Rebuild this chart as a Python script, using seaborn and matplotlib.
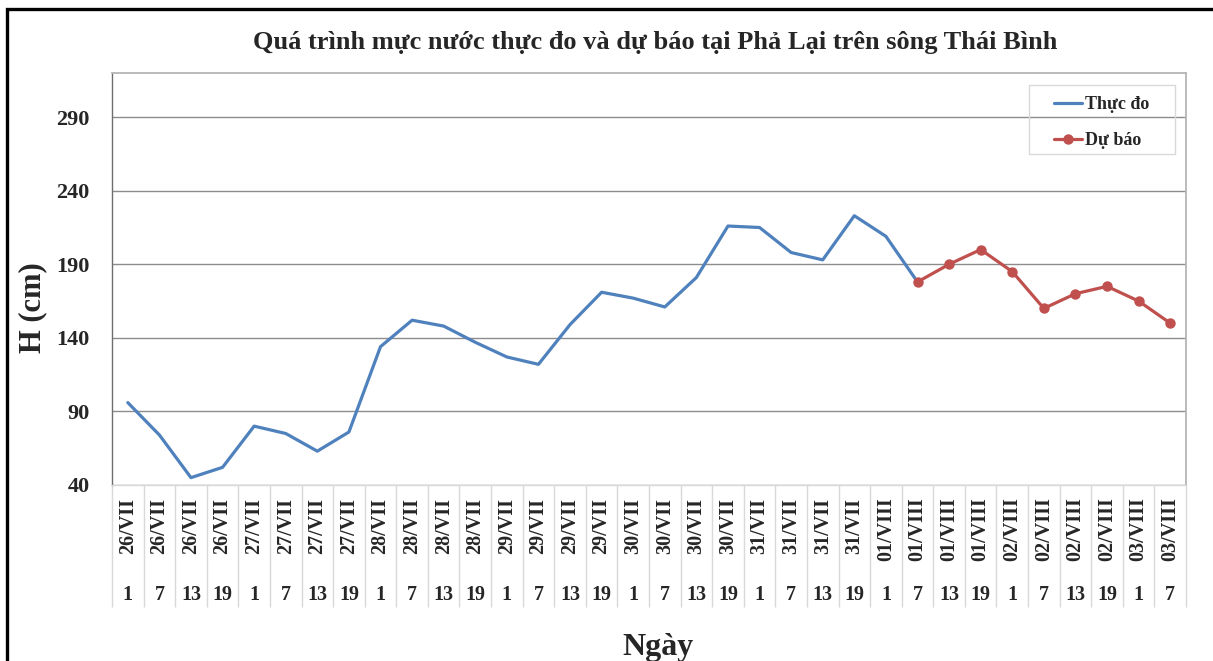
import numpy as np
import pandas as pd
import matplotlib
matplotlib.use("Agg")
import matplotlib.pyplot as plt
import matplotlib.transforms as mtransforms
from matplotlib.patches import Rectangle
import seaborn as sns

# Data
dates = (["26/VII"] * 4 + ["27/VII"] * 4 + ["28/VII"] * 4 + ["29/VII"] * 4 +
         ["30/VII"] * 4 + ["31/VII"] * 4 + ["01/VIII"] * 4 + ["02/VIII"] * 4 +
         ["03/VIII"] * 2)
hours = ["1", "7", "13", "19"] * 8 + ["1", "7"]

observed = [96, 74, 45, 52, 80, 75, 63, 76, 134, 152, 148, 137, 127, 122,
            149, 171, 167, 161, 181, 216, 215, 198, 193, 223, 209, 178]
forecast = [178, 190, 200, 185, 160, 170, 175, 165, 150]
forecast_start = len(observed) - 1

yticks = [40, 90, 140, 190, 240, 290]

title = "Quá trình mực nước thực đo và dự báo tại Phả Lại trên sông Thái Bình"

sns.set_style("white")
plt.rcParams["font.family"] = ["Liberation Serif", "DejaVu Serif"]
plt.rcParams["font.weight"] = "bold"

df_obs = pd.DataFrame({"x": np.arange(len(observed)), "H": observed})
df_fc = pd.DataFrame({"x": np.arange(forecast_start, forecast_start + len(forecast)),
                      "H": forecast})

W, H = 1213, 661
fig = plt.figure(figsize=(W / 100, H / 100), dpi=100)
ax = fig.add_axes([112 / W, 1 - 485 / H, (1186 - 112) / W, (485 - 73) / H])

sns.lineplot(data=df_obs, x="x", y="H", ax=ax, color="#4f81bd", linewidth=2.3,
             label="Thực đo")
sns.lineplot(data=df_fc, x="x", y="H", ax=ax, color="#c0504d", linewidth=2.3,
             marker="o", markersize=7.5, markeredgewidth=0, label="Dự báo")

n = len(dates)
ax.set_xlim(-0.5, n - 0.5)
ax.set_ylim(40, 320)
ax.set_yticks(yticks)
ax.set_yticklabels([str(v) for v in yticks], fontsize=16, fontweight="bold")
ax.set_xticks(np.arange(n))
ax.set_xticklabels(dates, rotation=90, fontsize=14.5, fontweight="bold")
ax.tick_params(axis="x", length=0, pad=9)
ax.tick_params(axis="y", length=0, pad=16)
ax.set_xlabel("")
ax.set_ylabel("")

# gridlines
ax.grid(axis="y", color="#8c8c8c", linewidth=1)
ax.set_axisbelow(True)

for side in ["top", "right"]:
    ax.spines[side].set_color("#b5b5b5")
    ax.spines[side].set_linewidth(1.3)
ax.spines["left"].set_color("#6e6e6e")
ax.spines["left"].set_linewidth(1)
ax.spines["bottom"].set_color("#d9d9d9")
ax.spines["bottom"].set_linewidth(1)

# table-like category separators below the axis
trans = mtransforms.blended_transform_factory(ax.transData, ax.transAxes)
bounds = np.arange(n + 1) - 0.5
ax.vlines(bounds, -0.296, 0, transform=trans, colors="#d9d9d9", linewidth=1,
          clip_on=False)
for i, h in enumerate(hours):
    ax.text(i, -0.267, h, transform=trans, ha="center", va="center",
            fontsize=14.5, fontweight="bold")

# legend (no frame, box drawn separately)
leg = ax.legend(loc="upper left", bbox_to_anchor=(1054 / W, 1 - 96 / H),
                bbox_transform=fig.transFigure, frameon=False,
                prop={"size": 13, "weight": "bold"}, handlelength=1.55,
                handletextpad=0.15, labelspacing=1.05, borderpad=0,
                borderaxespad=0)
fig.add_artist(Rectangle((1029 / W, 1 - 154 / H), (1175 - 1029) / W, (154 - 85) / H,
                         transform=fig.transFigure, fill=False,
                         edgecolor="#d9d9d9", linewidth=1))

fig.text(655 / W, 1 - 42 / H, title, ha="center", va="center",
         fontsize=19, fontweight="bold")
fig.text(658 / W, 1 - 647 / H, "Ngày", ha="center", va="center",
         fontsize=23, fontweight="bold")
fig.text(33 / W, 1 - 308 / H, "H (cm)", ha="center", va="center",
         rotation=90, fontsize=22, fontweight="bold")

# outer frame
fig.add_artist(Rectangle((7 / W, -0.2), 1.2, 1.2 - 9 / H,
                         transform=fig.transFigure, fill=False,
                         edgecolor="black", linewidth=2.4))

fig.savefig("out.png", dpi=100)
